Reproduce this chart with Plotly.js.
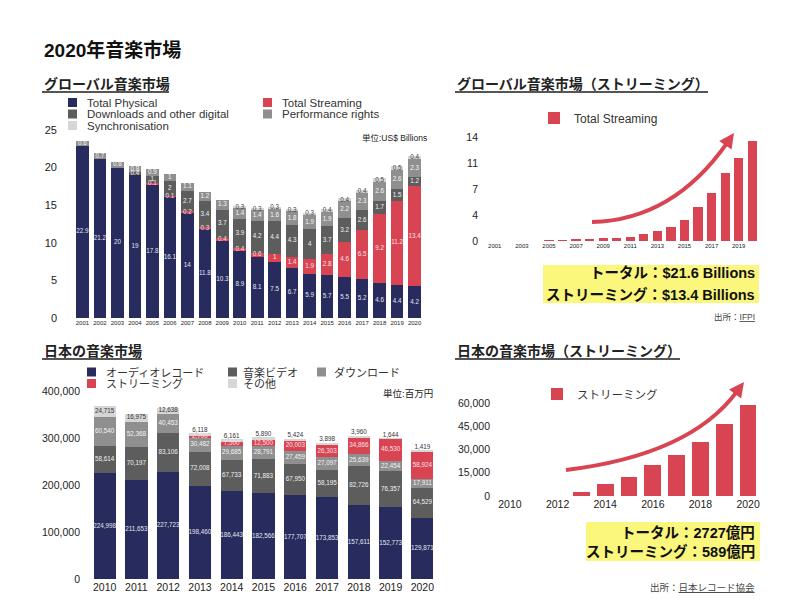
<!DOCTYPE html>
<html><head><meta charset="utf-8">
<script src="https://cdn.plot.ly/plotly-3.0.1.min.js"></script>
<style>html,body{margin:0;padding:0;background:#fff}</style>
</head><body><div id="chart" style="width:800px;height:600px"></div>
<script>
// ---------- DATA ----------
const globalYears = ['2001','2002','2003','2004','2005','2006','2007','2008','2009','2010','2011','2012','2013','2014','2015','2016','2017','2018','2019','2020'];
const globalPhysical   = [22.9,21.2,20,19,17.8,16.1,14,11.8,10.3,8.9,8.1,7.5,6.7,5.9,5.7,5.5,5.2,4.6,4.4,4.2];
const globalStreaming  = [0,0,0,0,0.1,0.1,0.2,0.3,0.4,0.4,0.6,1,1.4,1.9,2.8,4.6,6.5,9.2,11.2,13.4];
const globalDownloads  = [0,0,0,0.4,1,2,2.7,3.4,3.7,3.9,4.2,4.4,4.3,4,3.7,3.2,2.6,1.7,1.5,1.2];
const globalPerformance= [0.6,0.7,0.8,0.8,0.9,1,1.1,1.2,1.3,1.4,1.4,1.6,1.8,1.9,1.9,2.2,2.3,2.6,2.6,2.3];
const globalSync       = [0,0,0,0,0,0,0,0,0,0.3,0.3,0.3,0.3,0.3,0.4,0.4,0.4,0.5,0.5,0.4];

const jpYears     = ['2010','2011','2012','2013','2014','2015','2016','2017','2018','2019','2020'];
const jpAudio     = [224998,211653,227723,198460,186443,182566,177707,173853,157611,152773,129871];
const jpVideo     = [58614,70197,83106,72008,67733,71883,67950,58195,82726,76357,64529];
const jpDownload  = [60540,52368,40453,30482,29685,28791,27459,27097,25639,22454,17911];
const jpStreaming = [0,0,0,2700,7500,12500,20003,26303,34866,46530,58924];
const jpOther     = [24715,16975,12638,6118,6161,5890,5424,3898,3960,1644,1419];

const globalYTickVals = [0,3.5,7,10.5,14];
const globalYTickText = ['0','4','7','11','14'];

// ---------- STYLE ----------
const FONT = 'Liberation Sans, "Noto Sans CJK JP", sans-serif';
const NAVY='#272b5e', RED='#d94452', DARK='#5d5d5d', MID='#8f8f8f', LIGHT='#d6d6d6';
const px = x => x/800, py = y => 1 - y/600;
const fmt1 = v => v ? String(v) : '';
const fmtK = v => v ? v.toLocaleString('en-US') : '';

const data = [];
// stacked bars + value labels (label positions derived from the stacked data)
function addStack(series, x, xa, ya, fmt, width, labelSize, topLabelThreshold) {
  const base = x.map(() => 0);
  series.forEach((s, si) => {
    data.push({type:'bar', name:s.name, x:x, y:s.values, xaxis:xa, yaxis:ya, width:width,
      marker:{color:s.color, line:{width:0}}, showlegend:false, hoverinfo:'x+y+name'});
    const isTop = si === series.length - 1;
    const ys = [], pos = [];
    s.values.forEach((v, i) => {
      if (isTop && topLabelThreshold && v < topLabelThreshold) { ys.push(base[i] + v); pos.push('top center'); }
      else { ys.push(base[i] + v/2); pos.push('middle center'); }
    });
    data.push({type:'scatter', mode:'text', x:x, y:ys, xaxis:xa, yaxis:ya,
      text:s.values.map(fmt), textposition:pos, cliponaxis:false,
      textfont:{family:FONT, size:labelSize, color:s.textColor},
      showlegend:false, hoverinfo:'skip'});
    s.values.forEach((v, i) => { base[i] += v; });
  });
}

addStack([
  {name:'Total Physical', values:globalPhysical, color:NAVY, textColor:'#e4e4ee'},
  {name:'Total Streaming', values:globalStreaming, color:RED, textColor:'#fbe0e3'},
  {name:'Downloads and other digital', values:globalDownloads, color:DARK, textColor:'#f0f0f0'},
  {name:'Performance rights', values:globalPerformance, color:MID, textColor:'#f6f6f6'},
  {name:'Synchronisation', values:globalSync, color:LIGHT, textColor:'#444'}
], globalYears, 'x', 'y', fmt1, 0.72, 6.3, 0);

addStack([
  {name:'オーディオレコード', values:jpAudio, color:NAVY, textColor:'#e4e4ee'},
  {name:'音楽ビデオ', values:jpVideo, color:DARK, textColor:'#f0f0f0'},
  {name:'ダウンロード', values:jpDownload, color:MID, textColor:'#f6f6f6'},
  {name:'ストリーミング', values:jpStreaming, color:RED, textColor:'#fbe0e3'},
  {name:'その他', values:jpOther, color:LIGHT, textColor:'#333'}
], jpYears, 'x2', 'y2', fmtK, 0.7, 6.3, 10000);

data.push({type:'bar', name:'Total Streaming', x:globalYears, y:globalStreaming, xaxis:'x3', yaxis:'y3',
   width:0.68, marker:{color:RED}, legend:'legend', showlegend:true, hoverinfo:'x+y'});
data.push({type:'bar', name:'ストリーミング', x:jpYears, y:jpStreaming, xaxis:'x4', yaxis:'y4',
   width:0.7, marker:{color:RED}, legend:'legend2', showlegend:true, hoverinfo:'x+y'});

const axBase = {showgrid:false, zeroline:false, showline:false, ticks:'', fixedrange:true,
                tickfont:{family:FONT, color:'#222'}};
function ax(o){ const r = JSON.parse(JSON.stringify(axBase)); Object.keys(o).forEach(k=>{ if(k==='tickfont'){Object.assign(r.tickfont,o.tickfont);} else r[k]=o[k]; }); return r; }

// ---------- DECORATION ----------
const shapes = [];
const annotations = [];
function txt(x, y, text, size, opts) {
  annotations.push(Object.assign({xref:'paper', yref:'paper', x:px(x), y:py(y), text:text,
    showarrow:false, xanchor:'left', yanchor:'middle',
    font:{family:FONT, size:size, color:'#222'}}, opts||{}));
}
function line(x0,y0,x1,y1,color,w){ shapes.push({type:'line', xref:'paper', yref:'paper', x0:px(x0), y0:py(y0), x1:px(x1), y1:py(y1), line:{color:color, width:w}}); }
function rect(x0,y0,x1,y1,color){ shapes.push({type:'rect', xref:'paper', yref:'paper', x0:px(x0), y0:py(y0), x1:px(x1), y1:py(y1), fillcolor:color, line:{width:0}, layer:'below'}); }
function legendItem(sx, y, color, label, tx, size){ rect(sx, y-4.5, sx+9, y+4.5, color); txt(tx, y, label, size, {font:{family:FONT, size:size, color:'#333'}}); }
function arrow(p0, c, p1, color){
  const d = [p1[0]-c[0], p1[1]-c[1]]; const L = Math.hypot(d[0],d[1]); const u=[d[0]/L,d[1]/L]; const n=[-u[1],u[0]];
  const hl=15, hw=7.5;
  const base=[p1[0]-hl*u[0], p1[1]-hl*u[1]];
  const end=[p1[0]-(hl-3)*u[0], p1[1]-(hl-3)*u[1]];
  const P = (p)=> px(p[0])+','+py(p[1]);
  shapes.push({type:'path', xref:'paper', yref:'paper', path:'M'+P(p0)+' Q'+P(c)+' '+P(end), line:{color:color, width:4}, fillcolor:'rgba(0,0,0,0)'});
  shapes.push({type:'path', xref:'paper', yref:'paper', path:'M'+P(p1)+' L'+P([base[0]+hw*n[0],base[1]+hw*n[1]])+' L'+P([base[0]-hw*n[0],base[1]-hw*n[1]])+' Z', line:{width:0}, fillcolor:color});
}

// main title
txt(42, 50, '2020年音楽市場', 19, {font:{family:FONT, size:19, color:'#111', weight:'bold'}});
// section titles + underlines
const secFont = {family:FONT, size:14, color:'#222', weight:'bold'};
txt(42, 84, 'グローバル音楽市場', 14, {font:secFont}); line(42, 92, 169, 92, '#555', 2);
txt(455, 84, 'グローバル音楽市場（ストリーミング）', 14, {font:secFont}); line(455, 92, 708, 92, '#555', 2);
txt(42, 351, '日本の音楽市場', 14, {font:secFont}); line(42, 359, 142, 359, '#555', 2);
txt(455, 351, '日本の音楽市場（ストリーミング）', 14, {font:secFont}); line(455, 359, 680, 359, '#555', 2);

// legends (left charts)
legendItem(68, 102.5, NAVY, 'Total Physical', 85, 11.5);
legendItem(68, 114, DARK, 'Downloads and other digital', 85, 11.5);
legendItem(68, 125.5, LIGHT, 'Synchronisation', 85, 11.5);
legendItem(263, 102.5, RED, 'Total Streaming', 280, 11.5);
legendItem(263, 114, MID, 'Performance rights', 280, 11.5);

legendItem(87, 372, NAVY, 'オーディオレコード', 104, 11);
legendItem(87, 383.5, RED, 'ストリーミング', 104, 11);
legendItem(228, 372, DARK, '音楽ビデオ', 241, 11);
legendItem(228, 383.5, LIGHT, 'その他', 241, 11);
legendItem(317, 372, MID, 'ダウンロード', 332, 11);

// units
txt(429, 138, '単位:US$ Billions', 8.5, {xanchor:'right', font:{family:FONT, size:8.5, color:'#222'}});
txt(435, 393, '単位:百万円', 9.5, {xanchor:'right', font:{family:FONT, size:9.5, color:'#222'}});

// yellow summary boxes
rect(543, 265, 759, 303, '#fbf67c');
rect(586, 522, 760, 561, '#fbf67c');
const boxFont = {family:FONT, size:14.5, color:'#111', weight:'bold'};
txt(757, 273, 'トータル：$21.6 Billions', 14.5, {xanchor:'right', font:boxFont});
txt(757, 294, 'ストリーミング：$13.4 Billions', 14.5, {xanchor:'right', font:boxFont});
txt(757, 532, 'トータル：2727億円', 14.5, {xanchor:'right', font:boxFont});
txt(757, 551, 'ストリーミング：589億円', 14.5, {xanchor:'right', font:boxFont});

// sources
txt(757, 317, '出所：<span style="text-decoration:underline">IFPI</span>', 8.5, {xanchor:'right', font:{family:FONT, size:8.5, color:'#444'}});
txt(757, 587, '出所：<span style="text-decoration:underline">日本レコード協会</span>', 9.5, {xanchor:'right', font:{family:FONT, size:9.5, color:'#444'}});

// growth arrows
arrow([592,222],[673,220],[734,133], RED);
arrow([566,470],[690,455],[744,382], RED);

const layout = {
  width:800, height:600, margin:{l:0,r:0,t:0,b:0},
  paper_bgcolor:'#fff', plot_bgcolor:'rgba(0,0,0,0)',
  barmode:'stack', font:{family:FONT, color:'#222'},
  hovermode:false,
  xaxis: ax({domain:[px(64),px(433)], anchor:'y', type:'category', tickfont:{size:6}}),
  yaxis: ax({domain:[py(318),py(130)], anchor:'x', range:[0,25], dtick:5, tickfont:{size:11}, ticklabelstandoff:6}),
  xaxis2: ax({domain:[px(87),px(440)], anchor:'y2', type:'category', tickfont:{size:10.5}}),
  yaxis2: ax({domain:[py(579),py(391)], anchor:'x2', range:[0,400000], dtick:100000, tickformat:',d', tickfont:{size:10.5}, ticklabelstandoff:6}),
  xaxis3: ax({domain:[px(488),px(759)], anchor:'y3', type:'category', dtick:2, tick0:0, tickfont:{size:6}}),
  yaxis3: ax({domain:[py(241),py(137)], anchor:'x3', range:[0,14], tickvals:globalYTickVals, ticktext:globalYTickText, tickfont:{size:10.5}, ticklabelstandoff:9}),
  xaxis4: ax({domain:[px(498),px(760)], anchor:'y4', type:'category', dtick:2, tick0:0, tickfont:{size:10.5}}),
  yaxis4: ax({domain:[py(496),py(403)], anchor:'x4', range:[0,60000], dtick:15000, tickformat:',d', tickfont:{size:10.5}, ticklabelstandoff:7}),
  legend: {x:px(534), y:py(118), xanchor:'left', yanchor:'middle', bgcolor:'rgba(0,0,0,0)', font:{family:FONT, size:12, color:'#333'}, itemclick:false, itemdoubleclick:false},
  legend2:{x:px(537), y:py(394), xanchor:'left', yanchor:'middle', bgcolor:'rgba(0,0,0,0)', font:{family:FONT, size:11.5, color:'#333'}, itemclick:false, itemdoubleclick:false},
  shapes: shapes,
  annotations: annotations
};

Plotly.newPlot('chart', data, layout, {displayModeBar:false, responsive:false});
</script>
</body></html>
